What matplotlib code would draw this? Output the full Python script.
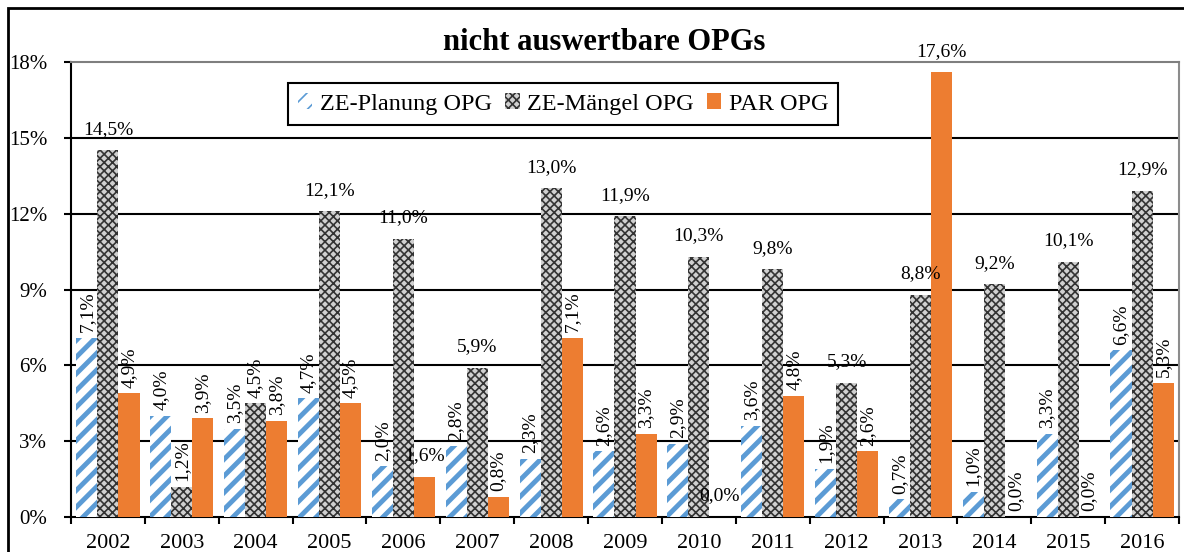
import numpy as np
import matplotlib
matplotlib.use("Agg")
import matplotlib.pyplot as plt
from matplotlib.patches import Rectangle

# data
years = ["2002", "2003", "2004", "2005", "2006", "2007", "2008", "2009",
         "2010", "2011", "2012", "2013", "2014", "2015", "2016"]
ze_planung = [7.1, 4.0, 3.5, 4.7, 2.0, 2.8, 2.3, 2.6, 2.9, 3.6, 1.9, 0.7, 1.0, 3.3, 6.6]
ze_maengel = [14.5, 1.2, 4.5, 12.1, 11.0, 5.9, 13.0, 11.9, 10.3, 9.8, 5.3, 8.8, 9.2, 10.1, 12.9]
par_opg = [4.9, 3.9, 3.8, 4.5, 1.6, 0.8, 7.1, 3.3, 0.0, 4.8, 2.6, 17.6, 0.0, 0.0, 5.3]
series_names = ["ZE-Planung OPG", "ZE-Mängel OPG", "PAR OPG"]

# which labels are written horizontally (the rest are rotated)
flat_maengel = [True, False, False, True, True, True, True, True, True, True, True, True, True, True, True]
flat_par = [False, False, False, False, True, False, False, False, True, False, False, True, False, False, False]
flat_planung = [False] * len(years)

plt.rcParams['font.family'] = ['Liberation Serif', 'DejaVu Serif']

fig = plt.figure(figsize=(11.84, 5.52), dpi=100)
ax = fig.add_axes([71/1184, 1-517/552, 1108/1184, 455/552])

x = np.arange(len(years))
w = 0.285

def set_hlw(bars, lw):
    for p in bars:
        if hasattr(p, "set_hatch_linewidth"):
            p.set_hatch_linewidth(lw)

plt.rcParams['hatch.linewidth'] = 3.5
b1 = ax.bar(x - w, ze_planung, w, facecolor="white", edgecolor="#5B9BD5",
            linewidth=0, hatch="//", label=series_names[0], zorder=3)
set_hlw(b1, 3.5)
plt.rcParams['hatch.linewidth'] = 1.2
b2 = ax.bar(x, ze_maengel, w, facecolor="#d0d0d0", edgecolor="#333333",
            linewidth=0, hatch="xxxx", label=series_names[1], zorder=3)
set_hlw(b2, 1.2)
b3 = ax.bar(x + w, par_opg, w, color="#ED7D31", linewidth=0,
            label=series_names[2], zorder=3)

def fmt(v):
    return f"{v:.1f}%".replace(".", ",")

for offs, vals, flats in [(-w, ze_planung, flat_planung),
                          (0, ze_maengel, flat_maengel),
                          (w, par_opg, flat_par)]:
    for xi, v, flat in zip(x, vals, flats):
        if flat:
            ax.annotate(fmt(v), (xi + offs, v), xytext=(0, 9), textcoords="offset points",
                        ha="center", va="bottom", fontsize=14, zorder=4)
        else:
            ax.annotate(fmt(v), (xi + offs, v), xytext=(0, 4), textcoords="offset points",
                        ha="center", va="bottom", rotation=90, fontsize=14, zorder=4)

ax.set_xlim(-0.5, len(years) - 0.5)
ax.set_ylim(0, 18)
ax.set_yticks(np.arange(0, 19, 3))
ax.set_yticklabels([f"{t}%" for t in range(0, 19, 3)], fontsize=15)
ax.set_xticks(x)
ax.set_xticklabels(years, fontsize=16)
ax.set_xticks(np.arange(-0.5, len(years), 1), minor=True)
ax.tick_params(axis="x", which="major", length=0, pad=12)
ax.tick_params(axis="x", which="minor", length=5, width=1.5, color="black")
ax.tick_params(axis="y", length=5, width=1.5, color="black", pad=12)

for yv in range(3, 18, 3):
    ax.axhline(yv, color="black", linewidth=1.5, zorder=1)

ax.spines["left"].set_linewidth(1.5)
ax.spines["bottom"].set_linewidth(1.5)
ax.spines["top"].set_color("#7f7f7f")
ax.spines["top"].set_linewidth(1.5)
ax.spines["right"].set_color("#8c8c8c")
ax.spines["right"].set_linewidth(1.5)

leg = ax.legend(loc="center", bbox_to_anchor=(0.444, 0.908), ncol=3, fontsize=17.5,
                frameon=True, fancybox=False, edgecolor="black", framealpha=1,
                handlelength=0.6, handleheight=0.6, handletextpad=0.3,
                columnspacing=0.55, borderpad=0.42)
leg.get_frame().set_linewidth(1.5)

fig.text(0.5106, 1 - 42/552, "nicht auswertbare OPGs", ha="center", va="center",
         fontsize=22, fontweight="bold")

# outer chart border
fig.patches.append(Rectangle((8/1184, -0.1), 1.2, 1.1 - 8/552, transform=fig.transFigure,
                             fill=False, edgecolor="black", linewidth=2, clip_on=False))

fig.savefig("out.png", dpi=100)
